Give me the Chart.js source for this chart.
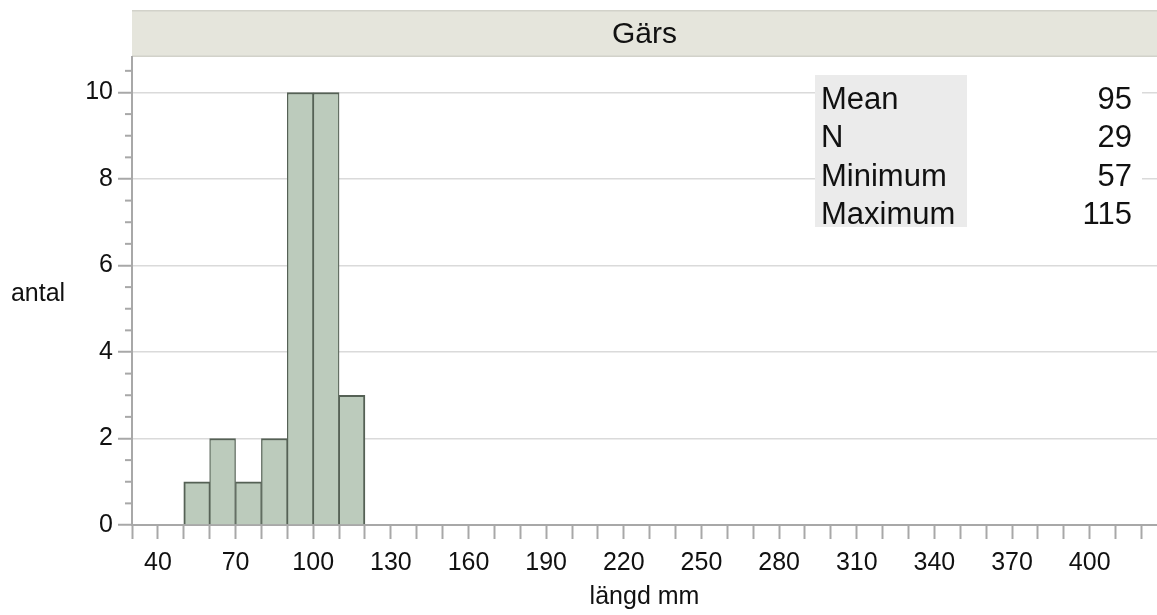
<!DOCTYPE html>
<html>
<head>
<meta charset="utf-8">
<script src="https://cdn.jsdelivr.net/npm/chart.js@4/dist/chart.umd.min.js"></script>
<style>
  body { margin: 0; background: #fff; }
  #wrap { width: 1157px; height: 615px; position: relative; }
</style>
</head>
<body>
<div id="wrap"><canvas id="hist"></canvas></div>
<script>
// histogram bins (10 mm wide), centre of each bin and its count
const binCenters = [55, 65, 75, 85, 95, 105, 115];
const counts = [1, 2, 1, 2, 10, 10, 3];

const panelTitle = 'Gärs';
const xTitle = 'längd mm';
const yTitle = 'antal';

const statLabels = ['Mean', 'N', 'Minimum', 'Maximum'];
const statValues = ['95', '29', '57', '115'];

const FONT = '"Liberation Sans", Arial, Helvetica, sans-serif';
const AXIS_COLOR = '#a8a8a8';

const decor = {
  id: 'decor',
  beforeDraw(chart) {
    const { ctx, chartArea } = chart;
    ctx.save();
    // panel header
    ctx.fillStyle = '#e5e5dc';
    ctx.fillRect(chartArea.left, 11, chart.width - chartArea.left, chartArea.top - 11);
    ctx.fillStyle = '#d2d2ca';
    ctx.fillRect(chartArea.left, 10, chart.width - chartArea.left, 1.5);
    ctx.fillRect(chartArea.left, chartArea.top - 1.5, chart.width - chartArea.left, 1.5);

    ctx.fillStyle = '#111';
    ctx.textAlign = 'center';
    ctx.textBaseline = 'middle';
    ctx.font = '30px ' + FONT;
    ctx.fillText(panelTitle, (chartArea.left + chart.width) / 2, 35);

    ctx.font = '25px ' + FONT;
    ctx.fillText(xTitle, (chartArea.left + chart.width) / 2, 597);
    ctx.fillText(yTitle, 38, 294);
    ctx.restore();
  },
  afterDraw(chart) {
    const { ctx } = chart;
    const y = chart.scales.y;
    ctx.save();
    // short ticks for the y values that carry no label
    ctx.strokeStyle = AXIS_COLOR;
    ctx.lineWidth = 2;
    y.ticks.forEach(t => {
      if (t.value % 2 !== 0) {
        const py = y.getPixelForValue(t.value);
        ctx.beginPath();
        ctx.moveTo(y.right - 7, py);
        ctx.lineTo(y.right, py);
        ctx.stroke();
      }
    });

    // summary statistics box
    ctx.fillStyle = '#fff';
    ctx.fillRect(815, 75, 327, 152);
    ctx.fillStyle = '#ebebeb';
    ctx.fillRect(815, 75, 152, 152);
    ctx.fillStyle = '#111';
    ctx.font = '31px ' + FONT;
    ctx.textBaseline = 'alphabetic';
    statLabels.forEach((lab, i) => {
      const by = 109 + i * 38.3;
      ctx.textAlign = 'left';
      ctx.fillText(lab, 821, by);
      ctx.textAlign = 'right';
      ctx.fillText(statValues[i], 1132, by);
    });
    ctx.restore();
  }
};

const lastBar = binCenters.length - 1;

new Chart(document.getElementById('hist'), {
  type: 'bar',
  data: {
    datasets: [{
      data: binCenters.map((x, i) => ({ x: x, y: counts[i] })),
      backgroundColor: '#bccbbc',
      borderColor: '#556155',
      borderWidth: ctx => ({
        top: 2,
        bottom: 0,
        left: ctx.dataIndex === 0 ? 2 : 1.25,
        right: ctx.dataIndex === lastBar ? 2 : 1.25,
      }),
      borderSkipped: false,
      barPercentage: 1,
      categoryPercentage: 1,
    }],
  },
  options: {
    responsive: true,
    maintainAspectRatio: false,
    animation: false,
    devicePixelRatio: 1,
    layout: { padding: { top: 57, left: 0, right: 0, bottom: 0 } },
    plugins: {
      legend: { display: false },
      tooltip: { enabled: false },
    },
    scales: {
      x: {
        type: 'linear',
        offset: false,
        min: 30,
        max: 426,
        afterFit: scale => { scale.height = 90; },
        border: { color: AXIS_COLOR, width: 2 },
        grid: {
          offset: false,
          drawOnChartArea: false,
          drawTicks: true,
          tickLength: 14,
          tickColor: AXIS_COLOR,
          tickWidth: 2,
        },
        ticks: {
          stepSize: 10,
          includeBounds: false,
          autoSkip: false,
          maxRotation: 0,
          padding: 9,
          color: '#111',
          font: { family: FONT, size: 25 },
          callback: v => ((v - 40) % 30 === 0 ? v : ''),
        },
      },
      y: {
        min: 0,
        max: 10.82,
        afterFit: scale => { scale.width = 132; },
        border: { color: AXIS_COLOR, width: 2 },
        grid: {
          color: c => (c.tick && c.tick.value > 0 && c.tick.value % 2 === 0 ? '#dadada' : 'rgba(0,0,0,0)'),
          lineWidth: 1.5,
          tickLength: 14,
          tickColor: c => (c.tick && c.tick.value % 2 === 0 ? AXIS_COLOR : 'rgba(0,0,0,0)'),
          tickWidth: 2,
        },
        ticks: {
          stepSize: 0.5,
          includeBounds: false,
          autoSkip: false,
          padding: 5,
          color: '#111',
          font: { family: FONT, size: 25 },
          callback: v => (v % 2 === 0 ? v : ''),
        },
      },
    },
  },
  plugins: [decor],
});
</script>
</body>
</html>
